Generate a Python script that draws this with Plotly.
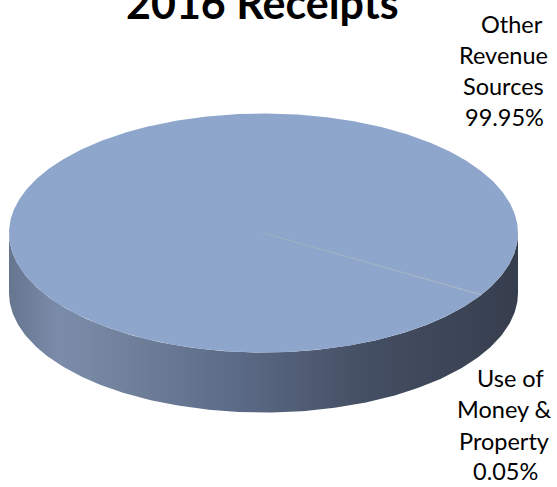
import numpy as np
import plotly.graph_objects as go

# ---- data ----
categories = ["Other Revenue Sources", "Use of Money & Property"]
shares = [99.95, 0.05]
label_lines = [["Other", "Revenue", "Sources"], ["Use of", "Money &", "Property"]]
title_text = "2016 Receipts"

# ---- geometry (screen pixel space) ----
W, H = 557, 487
CX, CY = 263.5, 233.0
A, B = 254.5, 119.5
DEPTH = 60.0
ROTATION = 121.2  # degrees clockwise from 12 o'clock

top_colors = ["#8EA6CC", "#9FB1C3"]

# per-line label placement (screen px): centre x, baseline y
label_xs = [[512, 503, 503.5, 504.5], [510, 504, 504, 505]]
label_base = [[31.7, 63.3, 94.3, 125.0], [386.0, 417.0, 448.7, 478.7]]
LABEL_SIZE = 23.5
TITLE_SIZE = 43


def ell(phi_deg, dy=0.0):
    p = np.radians(phi_deg)
    return CX + A * np.sin(p), CY - B * np.cos(p) + dy


def px2paper(x, y):
    return x / W, (H - y) / H


fig = go.Figure()

# side (front wall) of the 3D pie
phis = np.linspace(90, 270, 240)
xs_top, ys_top = ell(phis)
xs_bot, ys_bot = ell(phis[::-1], DEPTH)
side_x = np.concatenate([xs_top, xs_bot])
side_y = np.concatenate([ys_top, ys_bot])
fig.add_trace(go.Scatter(
    x=side_x, y=side_y, mode="lines", fill="toself",
    line=dict(width=0, color="rgba(0,0,0,0)"),
    fillgradient=dict(type="horizontal", colorscale=[
        [0.0, "#66768f"], [0.1, "#7b8cab"], [0.2, "#74849f"],
        [0.45, "#5b6a86"], [0.7, "#454f63"], [1.0, "#363e4e"]]),
    hoverinfo="skip", showlegend=False))

# top face slices
total = sum(shares)
start = ROTATION
for i, (cat, v) in enumerate(zip(categories, shares)):
    span = 360.0 * v / total
    n = max(3, int(span * 2))
    ph = np.linspace(start, start + span, n)
    ax, ay = ell(ph)
    px = np.concatenate([[CX], ax, [CX]])
    py = np.concatenate([[CY], ay, [CY]])
    fig.add_trace(go.Scatter(
        x=px, y=py, mode="lines", fill="toself",
        fillcolor=top_colors[i],
        line=dict(width=0.8 if i == 1 else 0, color="#9DB0BF"),
        name=cat, hoverinfo="name", showlegend=False))
    start += span

# labels (one annotation per line, placed at measured baselines)
for lines, v, xs, bases in zip(label_lines, shares, label_xs, label_base):
    for txt, lx, by in zip(lines + [f"{v:.2f}%"], xs, bases):
        xp, yp = px2paper(lx, by - 0.34 * LABEL_SIZE)
        fig.add_annotation(
            x=xp, y=yp, xref="paper", yref="paper", showarrow=False,
            text=txt, font=dict(family="Lato", size=LABEL_SIZE, color="#000000"),
            xanchor="center", yanchor="middle")

tx, ty = px2paper(262, 17 - 0.34 * TITLE_SIZE)
fig.add_annotation(
    x=tx, y=ty, xref="paper", yref="paper", showarrow=False,
    text=f"<b>{title_text}</b>",
    font=dict(family="Lato", size=TITLE_SIZE, color="#000000"),
    xanchor="center", yanchor="middle")

fig.update_xaxes(range=[0, W], visible=False, fixedrange=True)
fig.update_yaxes(range=[H, 0], visible=False, fixedrange=True)
fig.update_layout(
    width=W, height=H, autosize=False,
    margin=dict(l=0, r=0, t=0, b=0),
    paper_bgcolor="white", plot_bgcolor="white",
)
fig.write_html(
    "out.html",
    config={"displayModeBar": False},
    post_script="document.body.style.margin='0';document.body.style.overflow='hidden';",
)
